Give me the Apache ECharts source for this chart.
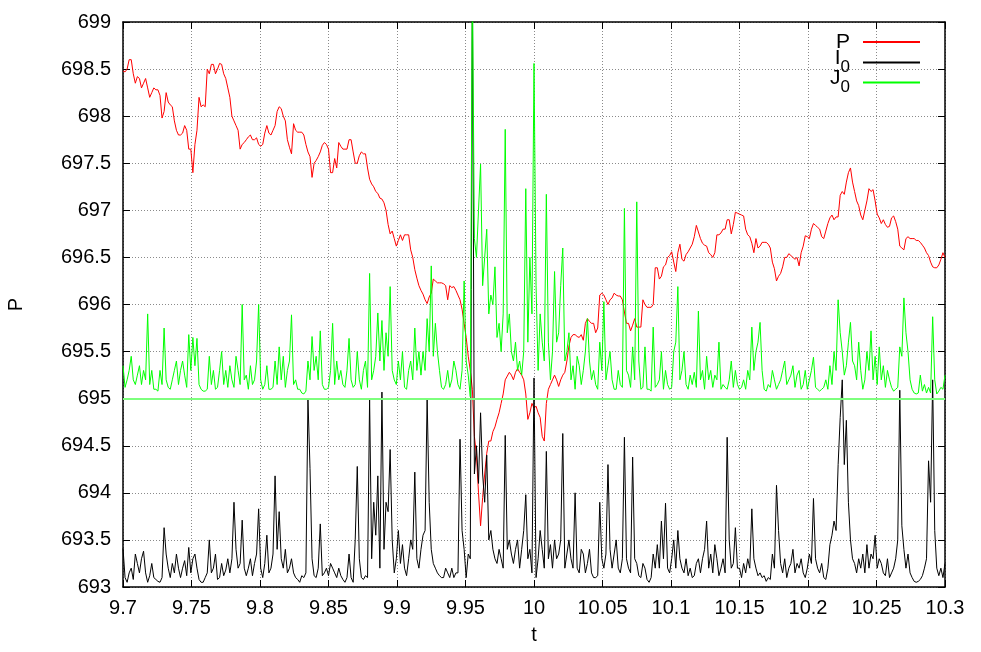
<!DOCTYPE html>
<html><head><meta charset="utf-8">
<script src="https://cdn.jsdelivr.net/npm/echarts@6/dist/echarts.min.js"></script>
<style>html,body{margin:0;padding:0;background:#fff}#c{width:981px;height:652px}</style>
</head><body><div id="c"></div>
<script>
// sampling grid of the curves (t axis): main samples every tStep, "Mid" samples halfway between
const tStart = 9.7;
const tStep = 0.003;

const seriesNames = ['P', 'I0', 'J0'];

const P = [
698.48, 698.5, 698.6, 698.35, 698.4, 698.35, 698.3, 698.25, 698.28, 698.22,
698.05, 698.15, 698.1, 697.85, 697.8, 697.9, 697.65, 697.4, 697.85, 698.1,
698.1, 698.45, 698.55, 698.5, 698.55, 698.4, 698.2, 697.95, 697.85, 697.7,
697.75, 697.8, 697.75, 697.7, 697.7, 697.9, 697.8, 697.9, 698.1, 698.0,
697.75, 697.6, 697.85, 697.83, 697.8, 697.62, 697.35, 697.53, 697.62, 697.72,
697.65, 697.4, 697.45, 697.68, 697.65, 697.75, 697.62, 697.5, 697.62, 697.6,
697.33, 697.25, 697.18, 697.12, 697.0, 696.75, 696.7, 696.68, 696.68, 696.74,
696.58, 696.37, 696.2, 696.11, 696.01, 696.12, 696.25, 696.23, 696.22, 696.05,
696.18, 696.15, 696.05, 695.8, 695.45, 695.1, 694.4, 693.65, 694.2, 694.55,
694.65, 694.78, 694.95, 695.2, 695.28, 695.2, 695.32, 695.25, 695.05, 694.85,
694.9, 694.85, 694.6, 694.95, 695.15, 695.25, 695.13, 695.25, 695.4, 695.65,
695.68, 695.65, 695.62, 695.85, 695.8, 695.7, 696.1, 696.1, 696.0, 696.07,
696.1, 696.09, 695.92, 695.8, 695.78, 695.76, 695.76, 696.0, 695.97, 696.0,
696.39, 696.3, 696.42, 696.52, 696.45, 696.55, 696.48, 696.53, 696.6, 696.72,
696.77, 696.65, 696.62, 696.53, 696.55, 696.74, 696.8, 696.9, 696.75, 696.98,
696.96, 696.94, 696.74, 696.65, 696.7, 696.62, 696.66, 696.64, 696.45, 696.25,
696.33, 696.5, 696.54, 696.5, 696.5, 696.55, 696.73, 696.7, 696.86, 696.82,
696.72, 696.78, 696.92, 696.9, 696.93, 697.2, 697.3, 697.45, 697.2, 697.05,
696.9, 697.1, 697.2, 697.1, 696.92, 696.9, 696.82, 696.92, 696.88, 696.62,
696.58, 696.72, 696.7, 696.68, 696.66, 696.6, 696.52, 696.4, 696.39, 696.48, 696.5
];

const PMid = [
698.47, 698.6, 698.45, 698.42, 698.3, 698.4, 698.2, 698.3, 698.28, 697.98,
698.25, 698.12, 697.95, 697.8, 697.82, 697.85, 697.65, 697.7, 698.2, 698.12,
698.5, 698.55, 698.45, 698.56, 698.45, 698.3, 698.0, 697.9, 697.65, 697.72,
697.78, 697.75, 697.77, 697.68, 697.82, 697.82, 697.85, 698.05, 698.08, 697.95,
697.67, 697.92, 697.83, 697.83, 697.7, 697.57, 697.5, 697.57, 697.69, 697.7,
697.4, 697.55, 697.72, 697.65, 697.65, 697.75, 697.5, 697.58, 697.6, 697.45,
697.28, 697.2, 697.13, 697.08, 696.85, 696.78, 696.62, 696.74, 696.74, 696.74,
696.5, 696.28, 696.15, 696.05, 696.08, 696.27, 696.23, 696.23, 696.2, 696.2,
696.19, 696.1, 695.95, 695.65, 695.3, 694.6, 694.0, 693.95, 694.42, 694.55,
694.7, 694.85, 695.05, 695.24, 695.25, 695.28, 695.28, 695.2, 694.78, 694.95,
694.92, 694.8, 694.55, 695.1, 695.2, 695.2, 695.2, 695.28, 695.56, 695.68,
695.66, 695.68, 695.8, 695.82, 695.8, 695.75, 696.12, 696.05, 696.05, 696.12,
696.09, 696.05, 695.8, 695.72, 695.85, 695.76, 696.05, 695.97, 695.97, 696.39,
696.27, 696.4, 696.5, 696.56, 696.35, 696.64, 696.46, 696.56, 696.64, 696.84,
696.7, 696.63, 696.55, 696.5, 696.74, 696.76, 696.8, 696.9, 696.85, 696.97,
696.95, 696.8, 696.72, 696.55, 696.6, 696.66, 696.66, 696.6, 696.38, 696.3,
696.4, 696.5, 696.52, 696.48, 696.41, 696.62, 696.72, 696.8, 696.84, 696.8,
696.7, 696.86, 696.95, 696.93, 697.16, 697.17, 697.4, 697.3, 697.1, 696.95,
697.0, 697.23, 697.22, 696.96, 696.86, 696.85, 696.83, 696.94, 696.8, 696.6,
696.7, 696.7, 696.7, 696.68, 696.63, 696.55, 696.45, 696.39, 696.42, 696.55
];

const I0 = [
693.41, 693.05, 693.2, 693.35, 693.15, 693.38, 693.05, 693.25, 693.08, 693.05,
693.63, 693.2, 693.25, 693.35, 693.1, 693.28, 693.42, 693.3, 693.2, 693.05,
693.1, 693.5, 693.2, 693.08, 693.25, 693.18, 693.15, 693.9, 693.2, 693.71,
693.12, 693.3, 693.25, 693.83, 693.1, 693.55, 693.2, 694.18, 693.8, 693.2,
693.15, 693.3, 693.1, 693.05, 693.1, 695.0, 693.3, 693.1, 693.67, 693.15,
693.12, 693.2, 693.1, 693.12, 693.05, 693.35, 693.05, 694.28, 693.1, 693.12,
695.0, 693.9, 694.18, 695.07, 693.9, 694.46, 693.15, 693.6, 693.45, 693.12,
693.5, 694.22, 693.2, 693.55, 695.0, 693.4, 693.2, 693.12, 693.1, 693.15,
693.2, 693.15, 694.57, 693.4, 693.35, 699.5, 694.5, 694.85, 693.9, 693.5,
693.4, 693.25, 693.3, 694.61, 693.5, 693.25, 693.5, 693.4, 693.98, 693.4,
695.22, 693.3, 693.4, 694.44, 693.45, 693.5, 693.35, 694.63, 693.35, 693.3,
694.0, 693.15, 693.35, 693.25, 693.15, 693.1, 693.9, 693.2, 694.3, 693.2,
693.5, 693.15, 694.59, 693.2, 694.38, 693.25, 693.1, 693.2, 693.05, 693.35,
693.45, 693.7, 693.89, 693.15, 693.5, 693.6, 693.2, 693.3, 693.2, 693.12,
693.3, 693.3, 693.7, 693.35, 693.45, 693.12, 693.3, 694.59, 693.2, 693.63,
693.2, 693.25, 693.3, 693.83, 693.2, 693.15, 693.12, 693.1, 693.35, 694.08,
693.25, 693.3, 693.2, 693.4, 693.25, 693.3, 693.1, 693.35, 693.94, 693.2,
693.25, 693.08, 693.45, 693.7, 694.3, 695.2, 694.77, 693.5, 693.25, 693.3,
693.35, 693.45, 693.35, 693.55, 693.3, 693.15, 693.3, 693.15, 693.3, 695.09,
693.4, 693.35, 693.1, 693.05, 693.08, 693.2, 694.34, 695.2, 693.2, 693.2, 693.25
];

const I0Mid = [
693.1, 693.15, 693.08, 693.25, 693.3, 693.15, 693.12, 693.1, 693.06, 693.1,
693.35, 693.1, 693.15, 693.2, 693.2, 693.12, 693.15, 693.35, 693.08, 693.05,
693.15, 693.15, 693.35, 693.1, 693.12, 693.3, 693.3, 693.4, 693.25, 693.2,
693.2, 693.12, 693.35, 693.2, 693.25, 693.15, 693.35, 693.4, 693.3, 693.4,
693.2, 693.15, 693.08, 693.12, 693.15, 694.26, 693.12, 693.2, 693.12, 693.2,
693.25, 693.15, 693.2, 693.08, 693.1, 693.1, 693.5, 693.3, 693.08, 693.1,
693.3, 693.55, 693.2, 693.4, 693.8, 693.5, 693.3, 693.25, 693.2, 693.3,
693.4, 693.3, 693.4, 693.6, 693.9, 693.25, 693.15, 693.1, 693.2, 693.1,
693.1, 693.15, 693.6, 693.1, 693.3, 694.2, 694.1, 694.2, 694.4, 693.6,
693.3, 693.4, 693.2, 693.4, 693.35, 693.4, 693.2, 693.6, 693.3, 693.15,
693.1, 693.6, 693.2, 693.3, 693.2, 693.3, 693.5, 693.2, 693.5, 693.2,
693.2, 693.4, 693.15, 693.4, 693.1, 693.12, 693.3, 693.35, 693.4, 693.35,
693.2, 693.3, 693.3, 693.15, 693.3, 693.12, 693.25, 693.08, 693.1, 693.2,
693.2, 693.3, 693.2, 693.3, 693.2, 693.3, 693.15, 693.12, 693.1, 693.25,
693.15, 693.4, 693.2, 693.15, 693.3, 693.2, 693.15, 693.5, 693.25, 693.2,
693.1, 693.15, 693.2, 693.3, 693.12, 693.1, 693.06, 693.08, 693.2, 693.6,
693.15, 693.1, 693.25, 693.15, 693.2, 693.15, 693.2, 693.25, 693.3, 693.15,
693.1, 693.2, 693.55, 693.6, 694.8, 694.3, 693.9, 693.3, 693.15, 693.2,
693.15, 693.2, 693.3, 693.2, 693.25, 693.12, 693.1, 693.2, 693.5, 693.65,
693.2, 693.15, 693.06, 693.06, 693.12, 693.3, 693.9, 693.6, 693.12, 693.1
];

const J0 = [
695.35, 695.2, 695.45, 695.15, 695.35, 695.3, 695.9, 695.3, 695.1, 695.3,
695.75, 695.12, 695.2, 695.4, 695.3, 695.25, 695.68, 695.65, 695.64, 695.1,
695.08, 695.45, 695.3, 695.12, 695.5, 695.3, 695.35, 695.12, 695.3, 696.0,
695.25, 695.35, 695.2, 696.0, 695.1, 695.35, 695.1, 695.4, 695.55, 695.45,
695.3, 695.89, 695.2, 695.1, 695.05, 695.4, 695.66, 695.45, 695.72, 695.1,
695.12, 695.8, 695.4, 695.3, 695.12, 695.64, 695.12, 695.5, 695.1, 695.4,
696.33, 695.3, 695.91, 695.83, 695.7, 696.19, 695.2, 695.4, 695.5, 695.1,
695.4, 695.75, 695.5, 695.5, 695.85, 696.41, 695.8, 695.3, 695.1, 695.3,
695.2, 695.3, 695.1, 696.25, 695.25, 699.5, 696.5, 697.49, 696.5, 695.9,
696.0, 695.65, 695.5, 697.86, 695.9, 695.4, 695.3, 695.25, 697.23, 696.5,
698.56, 695.3, 695.6, 697.17, 695.2, 696.35, 695.7, 696.6, 695.5, 695.2,
695.1, 695.35, 695.3, 695.85, 695.2, 695.15, 695.6, 696.03, 695.35, 695.2,
695.1, 695.15, 697.02, 695.25, 695.55, 697.09, 695.1, 695.55, 695.1, 695.76,
695.15, 695.5, 695.3, 695.1, 695.5, 696.19, 695.3, 695.15, 695.25, 695.28,
695.93, 695.3, 695.45, 695.3, 695.25, 695.6, 695.15, 695.1, 695.4, 695.3,
695.1, 695.2, 695.3, 695.76, 695.5, 695.81, 695.1, 695.15, 695.3, 695.1,
695.2, 695.4, 695.2, 695.35, 695.25, 695.1, 695.3, 695.2, 695.44, 695.1,
695.1, 695.2, 695.35, 695.5, 696.05, 695.5, 695.35, 695.81, 695.35, 695.6,
695.1, 695.5, 695.72, 695.45, 695.55, 695.35, 695.3, 695.12, 695.1, 695.55,
696.07, 695.5, 695.1, 695.05, 695.25, 695.15, 695.12, 695.87, 695.05, 695.12, 695.25
];

const J0Mid = [
695.12, 695.3, 695.2, 695.25, 695.15, 695.2, 695.15, 695.1, 695.08, 695.15,
695.2, 695.1, 695.3, 695.15, 695.4, 695.12, 695.3, 695.35, 695.15, 695.08,
695.1, 695.15, 695.1, 695.3, 695.15, 695.12, 695.2, 695.45, 695.15, 695.2,
695.1, 695.15, 695.4, 695.2, 695.15, 695.1, 695.12, 695.15, 695.2, 695.12,
695.4, 695.15, 695.1, 695.06, 695.08, 695.2, 695.3, 695.2, 695.15, 695.1,
695.3, 695.15, 695.2, 695.15, 695.3, 695.2, 695.15, 695.2, 695.3, 695.12,
695.2, 695.45, 695.4, 695.3, 695.45, 695.3, 695.15, 695.2, 695.12, 695.3,
695.2, 695.3, 695.25, 695.3, 695.5, 695.45, 695.5, 695.12, 695.15, 695.12,
695.4, 695.15, 695.3, 695.4, 695.02, 696.7, 697.0, 696.2, 696.8, 696.1,
696.4, 695.8, 695.9, 695.7, 695.5, 695.6, 695.4, 695.5, 695.6, 695.9,
696.2, 695.9, 695.4, 695.6, 695.5, 695.6, 696.2, 695.4, 695.7, 695.35,
695.45, 695.15, 695.5, 695.4, 695.3, 695.1, 695.3, 695.2, 695.5, 695.1,
695.3, 695.12, 695.3, 695.12, 695.2, 695.4, 695.12, 695.1, 695.08, 695.12,
695.2, 695.1, 695.15, 695.12, 695.6, 695.2, 695.5, 695.1, 695.15, 695.12,
695.2, 695.1, 695.2, 695.12, 695.2, 695.1, 695.12, 695.2, 695.12, 695.15,
695.12, 695.1, 695.2, 695.3, 695.6, 695.3, 695.08, 695.12, 695.2, 695.15,
695.3, 695.15, 695.25, 695.12, 695.3, 695.15, 695.1, 695.3, 695.12, 695.08,
695.12, 695.1, 695.15, 695.3, 695.7, 695.25, 695.6, 695.4, 695.2, 695.3,
695.2, 695.3, 695.2, 695.15, 695.2, 695.12, 695.2, 695.08, 695.12, 695.45,
695.7, 695.2, 695.06, 695.06, 695.08, 695.06, 695.06, 695.2, 695.08, 695.1
];

// reference level drawn across the plot
const J0Level = 695;

// axis ranges / ticks
const xMin = 9.7, xMax = 10.3, xInterval = 0.05;
const yMin = 693, yMax = 699, yInterval = 0.5;

const FONT = '"Liberation Sans", Arial, Helvetica, sans-serif';

// pair main samples with times; interleave half-step samples
function build(main, mid) {
  const out = [];
  main.forEach((v, i) => {
    out.push([+(tStart + i * tStep).toFixed(5), v]);
    if (mid && i < mid.length) out.push([+(tStart + (i + 0.5) * tStep).toFixed(5), mid[i]]);
  });
  return out;
}

const axisLineStyle = {show: true, lineStyle: {color: '#000', width: 1.5}};
const tickStyle = {show: true, inside: true, length: 7, lineStyle: {color: '#000', width: 1}};
const gridLine = {show: true, lineStyle: {color: '#8a8a8a', width: 1, type: [1, 2]}};
const labelStyle = {fontFamily: FONT, fontSize: 20, color: '#000'};

// one legend block per row so the rows sit at fixed positions; every token shares lineHeight 30
const legendRich = {
  m: {fontFamily: FONT, fontSize: 21, lineHeight: 30, color: '#000', padding: [0, 8, 0, 0]},
  a: {fontFamily: FONT, fontSize: 21, lineHeight: 30, color: '#000', padding: [0, 0, 9, 0]},
  b: {fontFamily: FONT, fontSize: 17, lineHeight: 30, color: '#000', padding: [12, 8, 2, 0]}
};
const legends = seriesNames.map((n, idx) => ({
  orient: 'vertical', right: 61, top: 27 + idx * 20, align: 'right', padding: 0,
  itemWidth: 57, itemHeight: 2, icon: 'rect', data: [n],
  formatter: name => name.length === 1 ? '{m|' + name + '}' : '{a|' + name[0] + '}{b|' + name.slice(1) + '}',
  textStyle: {fontFamily: FONT, color: '#000', lineHeight: 30, rich: legendRich}
}));

const chart = echarts.init(document.getElementById('c'), null, {renderer: 'canvas'});
chart.setOption({
  animation: false,
  backgroundColor: '#fff',
  grid: {left: 123, right: 36, top: 22, bottom: 65, containLabel: false, outerBoundsMode: 'none'},
  legend: legends,
  xAxis: [{
    type: 'value', min: xMin, max: xMax, interval: xInterval, position: 'bottom',
    axisLine: axisLineStyle, axisTick: tickStyle, splitLine: gridLine,
    axisLabel: Object.assign({margin: 11}, labelStyle),
    name: 't', nameLocation: 'middle', nameGap: 38, nameTextStyle: labelStyle
  }, {
    type: 'value', min: xMin, max: xMax, interval: xInterval, position: 'top',
    axisLine: axisLineStyle, axisTick: tickStyle, splitLine: {show: false}, axisLabel: {show: false}
  }],
  yAxis: [{
    type: 'value', min: yMin, max: yMax, interval: yInterval, position: 'left',
    axisLine: axisLineStyle, axisTick: tickStyle, splitLine: gridLine,
    axisLabel: Object.assign({margin: 12}, labelStyle),
    name: 'P', nameLocation: 'middle', nameGap: 97, nameRotate: 90, nameTextStyle: labelStyle
  }, {
    type: 'value', min: yMin, max: yMax, interval: yInterval, position: 'right',
    axisLine: axisLineStyle, axisTick: tickStyle, splitLine: {show: false}, axisLabel: {show: false}
  }],
  series: [{
    name: 'P', type: 'line', data: build(P, PMid), symbol: 'none', clip: true,
    lineStyle: {color: '#ff0000', width: 1}, itemStyle: {color: '#ff0000'}
  }, {
    name: 'I0', type: 'line', data: build(I0, I0Mid), symbol: 'none', clip: true,
    lineStyle: {color: '#000000', width: 1}, itemStyle: {color: '#000000'}
  }, {
    name: 'J0', type: 'line', data: build(J0, J0Mid), symbol: 'none', clip: true,
    lineStyle: {color: '#00ff00', width: 1}, itemStyle: {color: '#00ff00'},
    markLine: {
      silent: true, symbol: 'none', label: {show: false}, animation: false,
      lineStyle: {color: '#7dff7d', width: 2, type: 'solid'},
      data: [{yAxis: J0Level}]
    }
  }]
});
</script>
</body></html>
